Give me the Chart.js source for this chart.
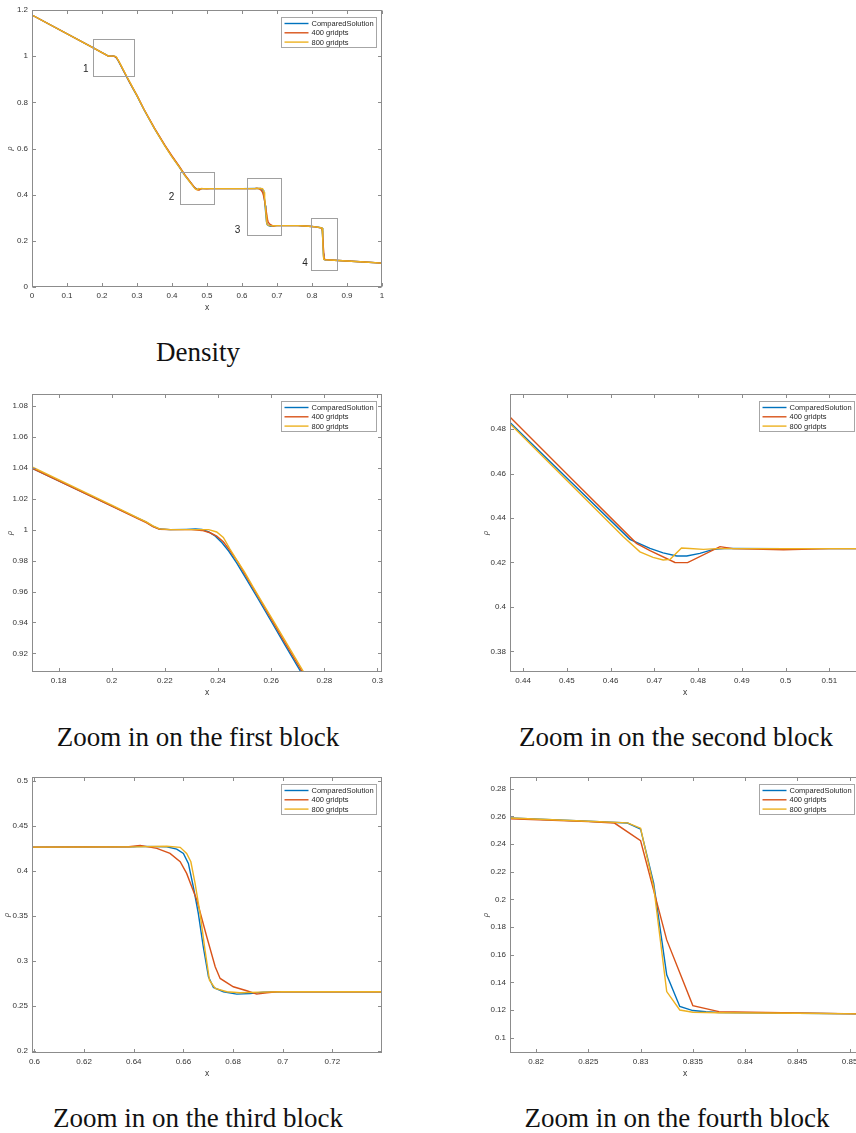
<!DOCTYPE html>
<html>
<head>
<meta charset="utf-8">
<script src="https://cdn.jsdelivr.net/npm/chart.js@4.4.1/dist/chart.umd.min.js"></script>
<style>
html,body{margin:0;padding:0;width:856px;height:1133px;overflow:hidden;background:#fff;}
.panel{position:absolute;}
.panel canvas{display:block;}
.cap{position:absolute;font-family:"Liberation Serif","Times New Roman",serif;font-size:27px;color:#111;transform:translate(-50%,-50%);white-space:nowrap;}
</style>
</head>
<body>
<div class="panel" id="p0"><canvas id="c0"></canvas></div>
<div class="panel" id="p1"><canvas id="c1"></canvas></div>
<div class="panel" id="p2"><canvas id="c2"></canvas></div>
<div class="panel" id="p3"><canvas id="c3"></canvas></div>
<div class="panel" id="p4"><canvas id="c4"></canvas></div>
<div class="cap" style="left:198px;top:352px;">Density</div>
<div class="cap" style="left:198px;top:737px;">Zoom in on the first block</div>
<div class="cap" style="left:676px;top:737px;">Zoom in on the second block</div>
<div class="cap" style="left:198px;top:1118px;">Zoom in on the third block</div>
<div class="cap" style="left:677px;top:1118px;">Zoom in on the fourth block</div>
<script>
// ---------- data ----------
const seriesLabels = ['ComparedSolution', '400 gridpts', '800 gridpts'];

const csX = [0, 0.17, 0.20, 0.21, 0.213, 0.2155, 0.218, 0.222, 0.228, 0.2315, 0.234, 0.2365, 0.239, 0.2415, 0.244, 0.247, 0.25, 0.255, 0.26, 0.265, 0.27, 0.275, 0.28, 0.29, 0.30, 0.32, 0.35, 0.38, 0.40, 0.42, 0.437, 0.45, 0.4644, 0.469, 0.472, 0.4751, 0.4774, 0.4804, 0.4835, 0.486, 0.50, 0.60, 0.64, 0.6426, 0.6533, 0.6573, 0.66, 0.662, 0.664, 0.666, 0.668, 0.6701, 0.6721, 0.6761, 0.6815, 0.6869, 0.6922, 0.70, 0.74, 0.76, 0.78, 0.80, 0.81, 0.8175, 0.825, 0.82875, 0.83, 0.83125, 0.8325, 0.83375, 0.835, 0.83625, 0.8375, 0.845, 0.851, 0.90, 0.95, 1.0];
const csY = [1.178, 1.0398, 1.0154, 1.0073, 1.0049, 1.0022, 1.0004, 1.0, 1.0002, 1.0004, 1.0002, 0.9985, 0.9958, 0.9915, 0.9862, 0.9785, 0.970, 0.9555, 0.9408, 0.926, 0.9115, 0.897, 0.883, 0.855, 0.828, 0.768, 0.686, 0.611, 0.565, 0.522, 0.483, 0.458, 0.4304, 0.4263, 0.4243, 0.4229, 0.4229, 0.4241, 0.4259, 0.4263, 0.4262, 0.4263, 0.4266, 0.4271, 0.4267, 0.4241, 0.4193, 0.4082, 0.3823, 0.3528, 0.3158, 0.2825, 0.2707, 0.2659, 0.2633, 0.264, 0.2655, 0.2659, 0.2659, 0.2657, 0.2645, 0.2622, 0.2605, 0.2588, 0.2565, 0.2552, 0.2508, 0.2117, 0.1454, 0.1225, 0.1196, 0.1187, 0.1182, 0.1177, 0.1172, 0.1125, 0.108, 0.1035];

const g400X = [0, 0.17, 0.20, 0.21, 0.213, 0.2155, 0.218, 0.222, 0.230, 0.234, 0.237, 0.2395, 0.242, 0.2445, 0.2475, 0.25, 0.255, 0.26, 0.265, 0.27, 0.275, 0.28, 0.29, 0.30, 0.32, 0.35, 0.38, 0.40, 0.42, 0.437, 0.45, 0.4659, 0.469, 0.4747, 0.4776, 0.485, 0.488, 0.4995, 0.51, 0.60, 0.638, 0.6426, 0.6493, 0.6546, 0.6587, 0.6613, 0.6654, 0.6694, 0.6728, 0.6748, 0.6801, 0.6855, 0.6895, 0.6936, 0.6976, 0.74, 0.76, 0.78, 0.80, 0.81, 0.8175, 0.825, 0.8275, 0.83, 0.8325, 0.835, 0.8375, 0.845, 0.851, 0.90, 0.95, 1.0];
const g400Y = [1.178, 1.0398, 1.0152, 1.007, 1.0045, 1.002, 1.0003, 1.0, 1.0, 0.9995, 0.998, 0.9958, 0.9922, 0.9865, 0.979, 0.9715, 0.957, 0.9423, 0.9275, 0.913, 0.8985, 0.8845, 0.857, 0.830, 0.770, 0.688, 0.6135, 0.5675, 0.5245, 0.4854, 0.4598, 0.4286, 0.4253, 0.42, 0.4199, 0.4271, 0.4262, 0.4257, 0.4262, 0.4263, 0.4266, 0.4282, 0.4249, 0.4193, 0.41, 0.3971, 0.3676, 0.3269, 0.2936, 0.2807, 0.2714, 0.267, 0.2633, 0.2648, 0.2659, 0.2659, 0.2657, 0.2645, 0.2622, 0.2603, 0.2583, 0.2562, 0.2552, 0.2424, 0.1707, 0.1232, 0.1188, 0.1178, 0.1172, 0.1125, 0.108, 0.1035];

const g800X = [0, 0.17, 0.20, 0.21, 0.213, 0.2155, 0.218, 0.222, 0.230, 0.2365, 0.2395, 0.242, 0.2445, 0.247, 0.25, 0.253, 0.256, 0.261, 0.266, 0.271, 0.276, 0.281, 0.29, 0.30, 0.32, 0.35, 0.38, 0.40, 0.42, 0.437, 0.45, 0.4629, 0.4667, 0.4697, 0.472, 0.4736, 0.4762, 0.4781, 0.4812, 0.4842, 0.60, 0.64, 0.6533, 0.6587, 0.6613, 0.663, 0.6647, 0.6667, 0.6687, 0.6705, 0.6728, 0.6775, 0.6828, 0.6909, 0.70, 0.74, 0.76, 0.78, 0.80, 0.81, 0.8175, 0.825, 0.82875, 0.83, 0.83125, 0.8325, 0.83375, 0.835, 0.8375, 0.845, 0.851, 0.90, 0.95, 1.0];
const g800Y = [1.178, 1.0406, 1.0158, 1.0075, 1.005, 1.0024, 1.0005, 1.0, 1.0, 1.0, 0.9985, 0.995, 0.9875, 0.9805, 0.9725, 0.9635, 0.9548, 0.9405, 0.926, 0.9115, 0.897, 0.883, 0.857, 0.829, 0.769, 0.686, 0.610, 0.564, 0.5215, 0.4824, 0.4569, 0.4316, 0.4248, 0.4223, 0.4211, 0.4214, 0.4265, 0.4263, 0.4259, 0.4262, 0.4263, 0.4265, 0.4273, 0.426, 0.4193, 0.41, 0.386, 0.3528, 0.3121, 0.2788, 0.2696, 0.2659, 0.2648, 0.2655, 0.2659, 0.2659, 0.2657, 0.2645, 0.2622, 0.2605, 0.2588, 0.2565, 0.2553, 0.2515, 0.2093, 0.1333, 0.12, 0.1184, 0.118, 0.1176, 0.1172, 0.1125, 0.108, 0.1035];

// tick labels
const ticksX0 = [0, 0.1, 0.2, 0.3, 0.4, 0.5, 0.6, 0.7, 0.8, 0.9, 1];
const ticksY0 = [0, 0.2, 0.4, 0.6, 0.8, 1, 1.2];
const ticksX1 = [0.18, 0.2, 0.22, 0.24, 0.26, 0.28, 0.3];
const ticksY1 = [0.92, 0.94, 0.96, 0.98, 1, 1.02, 1.04, 1.06, 1.08];
const ticksX2 = [0.44, 0.45, 0.46, 0.47, 0.48, 0.49, 0.5, 0.51];
const ticksY2 = [0.38, 0.4, 0.42, 0.44, 0.46, 0.48];
const ticksX3 = [0.6, 0.62, 0.64, 0.66, 0.68, 0.7, 0.72];
const ticksY3 = [0.2, 0.25, 0.3, 0.35, 0.4, 0.45, 0.5];
const ticksX4 = [0.82, 0.825, 0.83, 0.835, 0.84, 0.845, 0.85];
const ticksY4 = [0.1, 0.12, 0.14, 0.16, 0.18, 0.2, 0.22, 0.24, 0.26, 0.28];

// axis limits of each panel
const xLim = [[0, 1], [0.17, 0.3017], [0.437, 0.517], [0.599, 0.74], [0.8175, 0.851]];
const yLim = [[0, 1.2], [0.908, 1.0877], [0.3707, 0.4958], [0.198, 0.504], [0.0889, 0.2885]];

// zoom boxes on the overview (data coordinates)
const boxX0 = [0.175, 0.4234, 0.6156, 0.7973];
const boxX1 = [0.292, 0.5186, 0.7127, 0.8716];
const boxY0 = [0.9159, 0.3592, 0.225, 0.0736];
const boxY1 = [1.0746, 0.4976, 0.4702, 0.2986];
const boxLabels = ['1', '2', '3', '4'];
const boxLabelX = [0.154, 0.399, 0.587, 0.780];
const boxLabelY = [0.943, 0.388, 0.244, 0.101];

// ---------- layout (page pixels of each plot area) ----------
const geom = [
  {l: 32, t: 10, r: 382, b: 287, yw: 32, rho: 10},
  {l: 32, t: 394, r: 382, b: 672, yw: 32, rho: 10},
  {l: 510, t: 394, r: 860, b: 672, yw: 60, rho: 36},
  {l: 32, t: 777, r: 382, b: 1053, yw: 32, rho: 7},
  {l: 510, t: 777, r: 860, b: 1053, yw: 60, rho: 36}
];
const tickSets = [[ticksX0, ticksY0], [ticksX1, ticksY1], [ticksX2, ticksY2], [ticksX3, ticksY3], [ticksX4, ticksY4]];
const colors = ['#0072BD', '#D95319', '#EDB120'];
const SANS = '"Liberation Sans", Arial, Helvetica, sans-serif';
const fmt = v => String(parseFloat(Number(v).toFixed(4)));
const pts = (xs, ys) => xs.map((x, i) => ({x: x, y: ys[i]}));

const matlabAxes = {
  id: 'matlabAxes',
  afterDatasetsDraw(chart, args, o) {
    const ctx = chart.ctx, a = chart.chartArea;
    const xs = chart.scales.x, ys = chart.scales.y;
    ctx.save();
    if (o.boxes) {
      ctx.strokeStyle = '#a0a0a0';
      ctx.lineWidth = 1;
      ctx.font = '10px ' + SANS;
      ctx.fillStyle = '#262626';
      ctx.textAlign = 'center';
      ctx.textBaseline = 'middle';
      for (let i = 0; i < boxX0.length; i++) {
        const x0 = Math.round(xs.getPixelForValue(boxX0[i])) + 0.5;
        const x1 = Math.round(xs.getPixelForValue(boxX1[i])) + 0.5;
        const y0 = Math.round(ys.getPixelForValue(boxY0[i])) + 0.5;
        const y1 = Math.round(ys.getPixelForValue(boxY1[i])) + 0.5;
        ctx.strokeRect(x0, y1, x1 - x0, y0 - y1);
        ctx.fillText(boxLabels[i], xs.getPixelForValue(boxLabelX[i]), ys.getPixelForValue(boxLabelY[i]));
      }
    }
    // axes frame with inward ticks
    ctx.strokeStyle = '#8c8c8c';
    ctx.lineWidth = 1;
    const L = Math.round(a.left) + 0.5, R = Math.round(a.right) - 0.5;
    const T = Math.round(a.top) + 0.5, B = Math.round(a.bottom) - 0.5;
    ctx.strokeRect(L, T, R - L, B - T);
    const tl = 3.5;
    ctx.beginPath();
    xs.ticks.forEach(t => {
      const p = Math.round(xs.getPixelForValue(t.value)) + 0.5;
      ctx.moveTo(p, B); ctx.lineTo(p, B - tl);
      ctx.moveTo(p, T); ctx.lineTo(p, T + tl);
    });
    ys.ticks.forEach(t => {
      const p = Math.round(ys.getPixelForValue(t.value)) + 0.5;
      ctx.moveTo(L, p); ctx.lineTo(L + tl, p);
      ctx.moveTo(R, p); ctx.lineTo(R - tl, p);
    });
    ctx.stroke();
    // legend
    const bw = 95, bh = 30;
    const bx = Math.round(a.right - 6 - bw) + 0.5, by = Math.round(a.top + 7) + 0.5;
    ctx.fillStyle = '#ffffff';
    ctx.fillRect(bx, by, bw, bh);
    ctx.strokeStyle = '#a6a6a6';
    ctx.strokeRect(bx, by, bw, bh);
    ctx.font = '7.5px ' + SANS;
    ctx.textAlign = 'left';
    ctx.textBaseline = 'middle';
    chart.data.datasets.forEach((ds, i) => {
      const yy = by + 6 + i * 9.3;
      ctx.strokeStyle = ds.borderColor;
      ctx.lineWidth = 1.4;
      ctx.beginPath();
      ctx.moveTo(bx + 3, yy); ctx.lineTo(bx + 27, yy);
      ctx.stroke();
      ctx.fillStyle = '#262626';
      ctx.fillText(ds.label, bx + 30, yy + 0.5);
    });
    ctx.restore();
  }
};

geom.forEach((g, k) => {
  const left = g.l - g.yw, top = g.t - 10;
  const xAxisH = 34;
  const width = g.r - left + 18, height = g.b - top + xAxisH;
  const div = document.getElementById('p' + k);
  div.style.left = left + 'px'; div.style.top = top + 'px';
  div.style.width = width + 'px'; div.style.height = height + 'px';
  const cv = document.getElementById('c' + k);
  cv.width = width; cv.height = height;
  cv.style.width = width + 'px'; cv.style.height = height + 'px';
  const [xt, yt] = tickSets[k];
  new Chart(cv, {
    type: 'line',
    data: {
      datasets: [
        {label: seriesLabels[0], data: pts(csX, csY), borderColor: colors[0], order: 2},
        {label: seriesLabels[1], data: pts(g400X, g400Y), borderColor: colors[1], order: 1},
        {label: seriesLabels[2], data: pts(g800X, g800Y), borderColor: colors[2], order: 0}
      ]
    },
    options: {
      responsive: false,
      animation: false,
      devicePixelRatio: 1,
      layout: {padding: {left: 0, top: 10, right: 18, bottom: 0}},
      elements: {point: {radius: 0}, line: {borderWidth: 1.4, tension: 0, fill: false}},
      datasets: {line: {clip: 0}},
      plugins: {legend: {display: false}, tooltip: {enabled: false}, matlabAxes: {boxes: k === 0}},
      scales: {
        x: {
          type: 'linear', position: 'bottom', min: xLim[k][0], max: xLim[k][1],
          afterBuildTicks: s => { s.ticks = xt.map(v => ({value: v})); },
          afterFit: s => { s.height = xAxisH; },
          grid: {display: false, drawTicks: false}, border: {display: false},
          ticks: {autoSkip: false, maxRotation: 0, padding: 3.5, color: '#333333', font: {family: SANS, size: 8}, callback: v => fmt(v)},
          title: {display: true, text: 'x', color: '#333333', font: {family: SANS, size: 8.5}, padding: {top: 0, bottom: 8}}
        },
        y: {
          type: 'linear', position: 'left', min: yLim[k][0], max: yLim[k][1],
          afterBuildTicks: s => { s.ticks = yt.map(v => ({value: v})); },
          afterFit: s => { s.width = g.yw; },
          grid: {display: false, drawTicks: false}, border: {display: false},
          ticks: {autoSkip: false, padding: 4, color: '#333333', font: {family: SANS, size: 8}, callback: v => fmt(v)},
          title: {display: true, text: 'ρ', color: '#333333', font: {family: SANS, size: 7, style: 'italic'}, padding: {top: g.rho - 4.2, bottom: 0}}
        }
      }
    },
    plugins: [matlabAxes]
  });
});
</script>
</body>
</html>
